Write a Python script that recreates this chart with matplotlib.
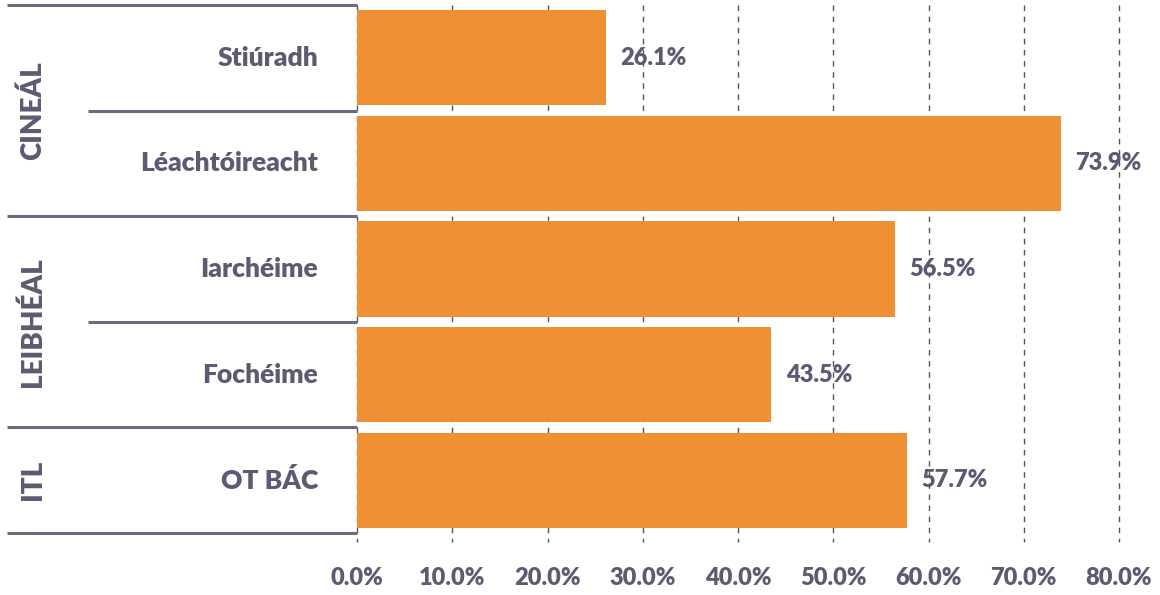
import matplotlib
matplotlib.use("Agg")
import matplotlib.pyplot as plt
from matplotlib.lines import Line2D
import matplotlib.transforms as mtransforms

categories = ["Stiúradh", "Léachtóireacht", "Iarchéime", "Fochéime", "OT BÁC"]
values = [26.1, 73.9, 56.5, 43.5, 57.7]
value_labels = ["26.1%", "73.9%", "56.5%", "43.5%", "57.7%"]
groups = ["CINEÁL", "LEIBHÉAL", "ITL"]
group_centers = [0.5, 2.5, 4.0]
xticks = [0, 10, 20, 30, 40, 50, 60, 70, 80]
xtick_labels = ["0.0%", "10.0%", "20.0%", "30.0%", "40.0%", "50.0%", "60.0%", "70.0%", "80.0%"]

W, H = 1160, 595
BAR = "#EE9033"
TXT = "#5F5A72"
LINE = "#6E6880"
FONT = ["Lato", "DejaVu Sans"]
WT = "heavy"

fig = plt.figure(figsize=(W / 100, H / 100), dpi=100)
ax_left, ax_right = 357 / W, 1119 / W
ax_top, ax_bot = 1 - 5 / H, 1 - 533 / H
ax = fig.add_axes([ax_left, ax_bot, ax_right - ax_left, ax_top - ax_bot])
ax.set_xlim(0, 80)
ax.set_ylim(4.5, -0.5)
for s in ax.spines.values():
    s.set_visible(False)
ax.set_xticks([])
ax.set_yticks([])

# gridlines (dashed), extending slightly below the axis
ext = 9 / ((533 - 5) / 5.0)
for xv in xticks:
    ax.plot([xv, xv], [-0.5, 4.5 + ext], color="#555555", lw=1.0,
            ls=(0, (4, 4)), clip_on=False, zorder=1)

ypos = list(range(len(categories)))
ax.barh(ypos, values, height=0.9, color=BAR, zorder=2)

for y, v, lab in zip(ypos, values, value_labels):
    ax.text(v + 1.5, y, lab, va="center", ha="left", fontsize=17,
            fontweight=WT, color=TXT, family=FONT, zorder=3)

blend = mtransforms.blended_transform_factory(fig.transFigure, ax.transData)
for y, lab in zip(ypos, categories):
    ax.text(318 / W, y, lab, transform=blend,
            ha="right", va="center", fontsize=19, fontweight=WT, color=TXT, family=FONT)

for xv, lab in zip(xticks, xtick_labels):
    ax.text(xv, 1 - 578 / H, lab,
            transform=mtransforms.blended_transform_factory(ax.transData, fig.transFigure),
            ha="center", va="center", fontsize=17, fontweight=WT, color=TXT, family=FONT)

sep = [(-0.5, 7), (0.5, 88), (1.5, 7), (2.5, 88), (3.5, 7), (4.5, 7)]
for yv, x0 in sep:
    fig.add_artist(Line2D([x0 / W, ax_left], [yv, yv], transform=blend,
                          color=LINE, lw=2.2, solid_capstyle="butt"))

for g, gy in zip(groups, group_centers):
    fig.text(33 / W, gy, g, transform=blend, rotation=90, ha="center", va="center",
             fontsize=20, fontweight=WT, color=TXT, family=FONT)

fig.savefig("out.png", dpi=100)
